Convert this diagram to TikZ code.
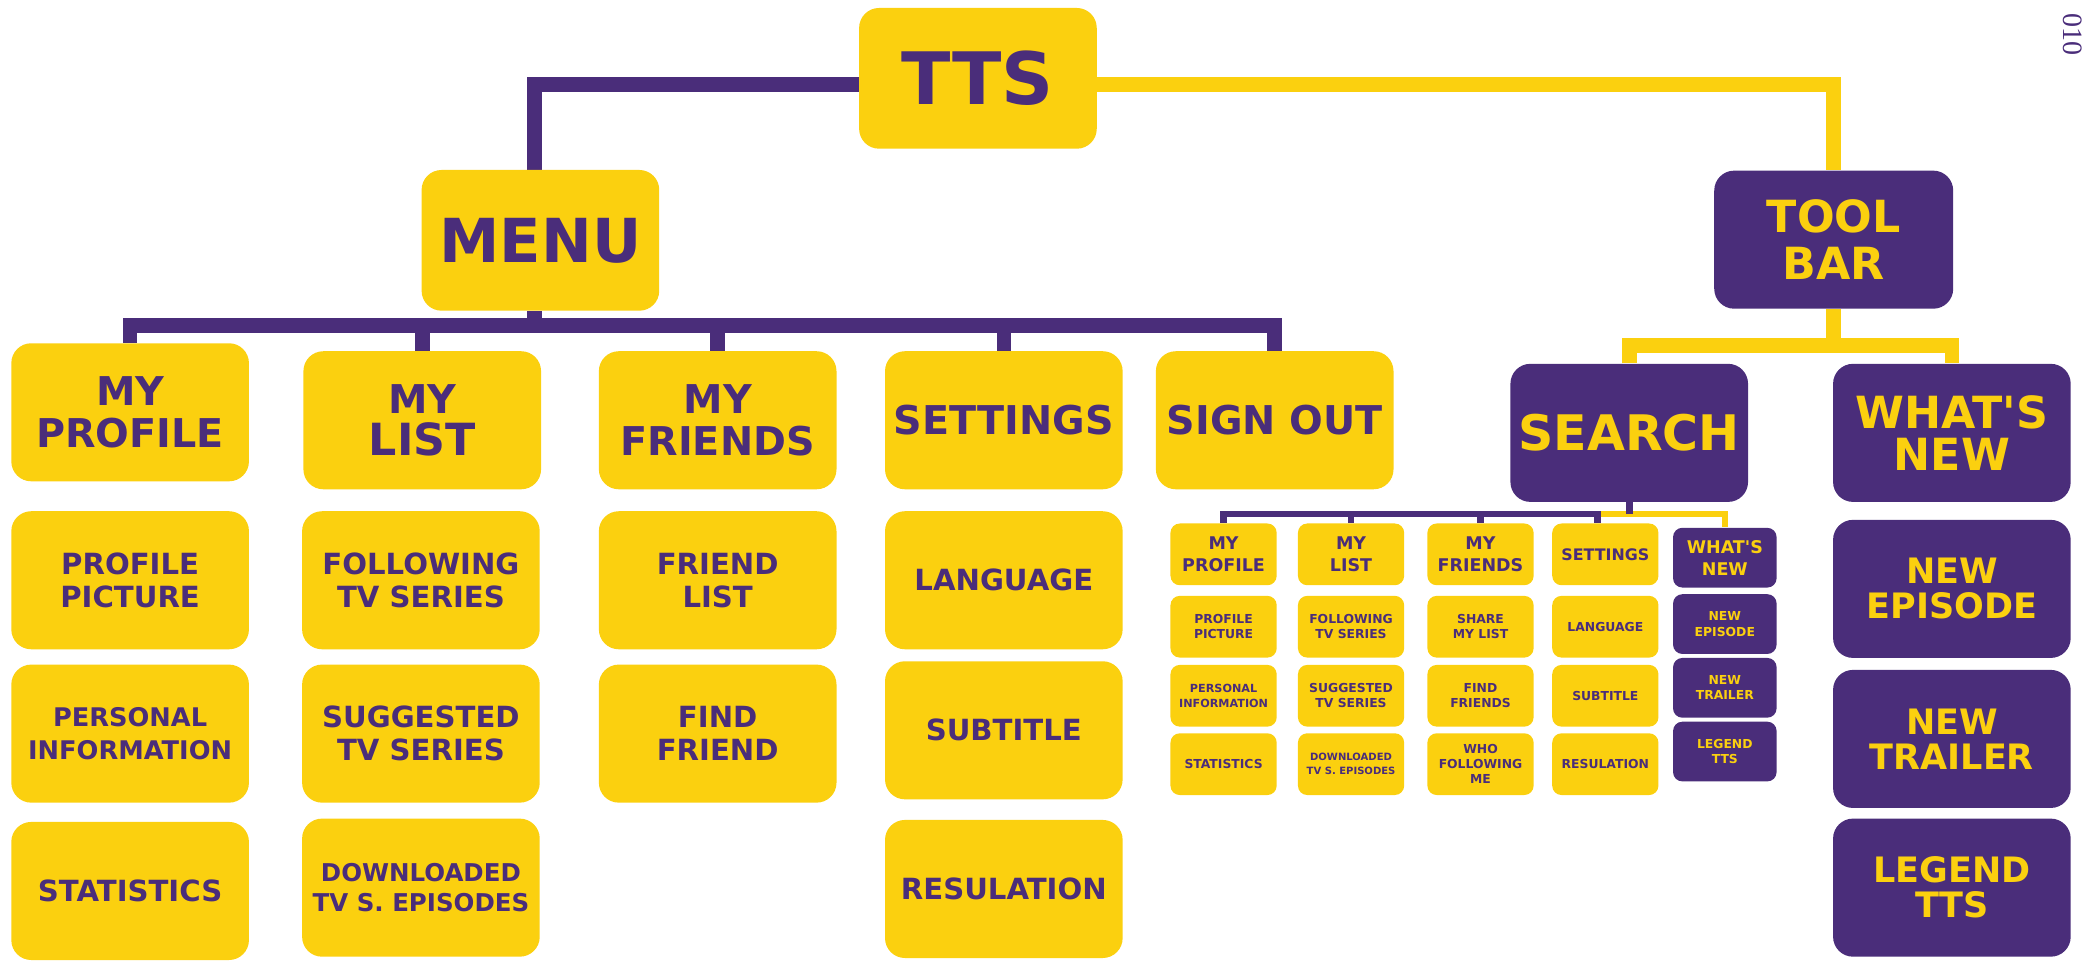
\documentclass[tikz,border=0pt]{standalone}
\usepackage{fontspec}
\setmainfont{DejaVu Sans}
\newfontfamily\cornerfont{Liberation Serif}
\usetikzlibrary{backgrounds}
\definecolor{ttsyellow}{HTML}{FBD00F}
\definecolor{ttspurple}{HTML}{4A2D7A}
\newcommand{\tfs}[2]{\fontsize{#1}{#2}\selectfont}
\begin{document}
\begin{tikzpicture}[x=0.02cm, y=-0.02cm,
  base/.style={rounded corners=0.3cm, inner sep=0pt, align=center},
  ybox/.style={base, fill=ttsyellow, text=ttspurple},
  pbox/.style={base, fill=ttspurple, text=ttsyellow},
  big/.style={minimum width=3.58cm, minimum height=2.08cm},
  sm/.style={rounded corners=0.14cm, minimum width=1.6cm, minimum height=0.93cm},
  smp/.style={rounded corners=0.14cm, minimum width=1.56cm, minimum height=0.9cm},
  hA/.style={font=\bfseries\tfs{31}{32}},
  hM/.style={font=\bfseries\tfs{26}{27}},
  hRone/.style={font=\bfseries\tfs{17}{18}},
  hR/.style={font=\bfseries\tfs{12.5}{14}},
  hTB/.style={font=\bfseries\tfs{19}{20}},
  hSE/.style={font=\bfseries\tfs{21}{22}},
  hWN/.style={font=\bfseries\tfs{19}{18}},
  hWC/.style={font=\bfseries\tfs{15}{15}},
  sRone/.style={font=\bfseries\tfs{7.5}{9.5}},
  sR/.style={font=\bfseries\tfs{5.3}{6.5}},
  pline/.style={draw=ttspurple, line width=0.22cm},
  yline/.style={draw=ttsyellow, line width=0.22cm},
  pthin/.style={draw=ttspurple, line width=0.1cm},
  ythin/.style={draw=ttsyellow, line width=0.1cm}
]
\useasboundingbox (0,0) rectangle (1568,723);

% top level
\node[ybox, big, hA, minimum height=2.12cm] (tts) at (736.5,59) {TTS};
\node[ybox, big, hM, minimum height=2.12cm] (menu) at (407,181) {MENU};
\node[pbox, big, hTB, minimum width=3.6cm] (tb) at (1381,180.5) {TOOL\\BAR};

% menu row 1
\node[ybox, big, hRone] (mp) at (98,310.5) {MY\\PROFILE};
\node[ybox, big, hRone] (ml) at (318,316.5) {MY\\{\tfs{19}{20}LIST}};
\node[ybox, big, hRone] (mf) at (540.5,316.5) {MY\\FRIENDS};
\node[ybox, big, hRone] (st) at (756,316.5) {SETTINGS};
\node[ybox, big, hRone] (so) at (960,316.5) {SIGN OUT};

% menu rows 2-4
\node[ybox, big, hR] (pp) at (98,437) {PROFILE\\PICTURE};
\node[ybox, big, hR] (fl) at (317,437) {FOLLOWING\\TV SERIES};
\node[ybox, big, hR] (fr) at (540.5,437) {FRIEND\\LIST};
\node[ybox, big, hR] (lg) at (756,437) {LANGUAGE};
\node[ybox, big, font=\bfseries\tfs{11}{14}] (pi) at (98,552.5) {PERSONAL\\INFORMATION};
\node[ybox, big, hR] (sg) at (317,552.5) {SUGGESTED\\TV SERIES};
\node[ybox, big, hR] (ff) at (540.5,552.5) {FIND\\FRIEND};
\node[ybox, big, hR] (sb) at (756,550) {SUBTITLE};
\node[ybox, big, hR] (sx) at (98,671) {STATISTICS};
\node[ybox, big, font=\bfseries\tfs{10.5}{12.5}] (dl) at (317,668.5) {DOWNLOADED\\TV S. EPISODES};
\node[ybox, big, hR] (rs) at (756,669.5) {RESULATION};

% toolbar branch
\node[pbox, big, hSE] (search) at (1227,326) {SEARCH};
\node[pbox, big, hWN] (wn) at (1470,326) {WHAT\textquotesingle S\\NEW};
\node[pbox, big, hWC] (ne) at (1470,443.5) {NEW\\EPISODE};
\node[pbox, big, hWC] (nt) at (1470,556.5) {NEW\\TRAILER};
\node[pbox, big, hWC] (lt) at (1470,668.5) {LEGEND\\TTS};

% search sub-tree
\node[ybox, sm, sRone] (s1a) at (921.5,417.5) {MY\\PROFILE};
\node[ybox, sm, sR] (s1b) at (921.5,472) {PROFILE\\PICTURE};
\node[ybox, sm, font=\bfseries\tfs{4.8}{6.5}] (s1c) at (921.5,524) {PERSONAL\\INFORMATION};
\node[ybox, sm, sR] (s1d) at (921.5,575.5) {STATISTICS};

\node[ybox, sm, sRone] (s2a) at (1017.5,417.5) {MY\\LIST};
\node[ybox, sm, sR] (s2b) at (1017.5,472) {FOLLOWING\\TV SERIES};
\node[ybox, sm, sR] (s2c) at (1017.5,524) {SUGGESTED\\TV SERIES};
\node[ybox, sm, font=\bfseries\tfs{4.3}{6}] (s2d) at (1017.5,575.5) {DOWNLOADED\\TV S. EPISODES};

\node[ybox, sm, sRone] (s3a) at (1115,417.5) {MY\\FRIENDS};
\node[ybox, sm, sR] (s3b) at (1115,472) {SHARE\\MY LIST};
\node[ybox, sm, sR] (s3c) at (1115,524) {FIND\\FRIENDS};
\node[ybox, sm, sR] (s3d) at (1115,575.5) {WHO\\FOLLOWING\\ME};

\node[ybox, sm, font=\bfseries\tfs{6.8}{8}] (s4a) at (1209,417.5) {SETTINGS};
\node[ybox, sm, sR] (s4b) at (1209,472) {LANGUAGE};
\node[ybox, sm, sR] (s4c) at (1209,524) {SUBTITLE};
\node[ybox, sm, sR] (s4d) at (1209,575.5) {RESULATION};

\node[pbox, smp, sRone] (s5a) at (1299,420) {WHAT\textquotesingle S\\NEW};
\node[pbox, smp, sR] (s5b) at (1299,470) {NEW\\EPISODE};
\node[pbox, smp, sR] (s5c) at (1299,518) {NEW\\TRAILER};
\node[pbox, smp, sR] (s5d) at (1299,566) {LEGEND\\TTS};

% corner text
\node[text=ttspurple, font=\cornerfont\tfs{12}{12}, rotate=-90, inner sep=0pt] (yr) at (1561,26) {010};

\begin{scope}[on background layer]
  \draw[yline] ([yshift=-0.09cm]tts.east) -| (tb.north);
  \draw[pline] ([yshift=-0.09cm]tts.west) -| ([xshift=-0.09cm]menu.north);
  \coordinate (mbar) at (0,245);
  \draw[pline] ([xshift=-0.09cm]menu.south) -- ([xshift=-0.09cm]menu.south |- mbar);
  \draw[pline] (mp.north) -- (mp.north |- mbar) -- (so.north |- mbar) -- (so.north);
  \foreach \n in {ml,mf,st} \draw[pline] (\n.north) -- (\n.north |- mbar);
  \coordinate (tbar) at (0,260);
  \draw[yline] (tb.south) -- (tb.south |- tbar);
  \draw[yline] (search.north) -- (search.north |- tbar) -- (wn.north |- tbar) -- (wn.north);
  \coordinate (sbar) at (0,387);
  \coordinate (ssplit) at (1203,387);
  \draw[ythin] (ssplit) -- (s5a.north |- sbar) -- (s5a.north);
  \draw[pthin] (s1a.north) -- (s1a.north |- sbar) -- (ssplit) -- (ssplit |- s4a.north);
  \foreach \n in {s2a,s3a} \draw[pthin] (\n.north) -- (\n.north |- sbar);
  \draw[pthin] (search.south) -- (search.south |- sbar);
\end{scope}
\end{tikzpicture}
\end{document}
